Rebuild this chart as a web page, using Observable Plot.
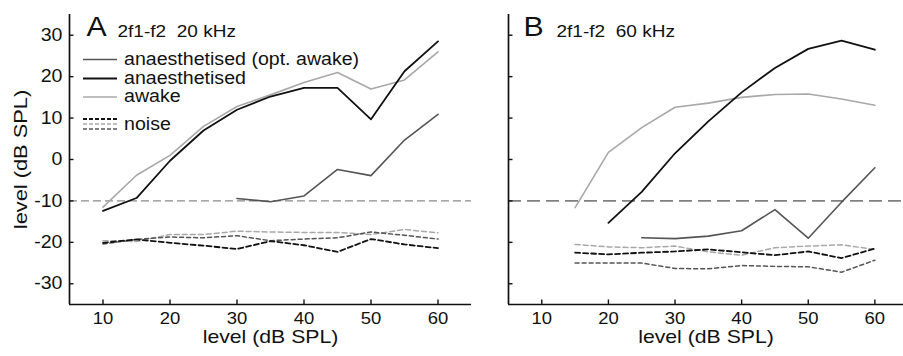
<!DOCTYPE html>
<html><head><meta charset="utf-8">
<script src="https://cdn.jsdelivr.net/npm/d3@7"></script>
<script src="https://cdn.jsdelivr.net/npm/@observablehq/plot@0.6"></script>
<style>
body{margin:0;background:#fff;}
#wrap{position:relative;width:903px;height:356px;overflow:hidden;background:#fff;}
#wrap svg{position:absolute;top:0;}
</style></head><body><div id="wrap"></div>
<script>
// ---------- data ----------
const levels = [10, 15, 20, 25, 30, 35, 40, 45, 50, 55, 60];
const xTicks = [10, 20, 30, 40, 50, 60];
const yTicks = [-30, -20, -10, 0, 10, 20, 30];
const thresholdLevel = -10;
const seriesNames = ["anaesthetised (opt. awake)", "anaesthetised", "awake"];
const noiseLabel = "noise";
const panelLetters = ["A", "B"];
const panelTitles = ["2f1-f2\u00a0\u00a020 kHz", "2f1-f2\u00a0\u00a060 kHz"];
const axisLabel = "level (dB SPL)";

// Panel A: 20 kHz
const optAwakeA = [null, null, null, null, -9.4, -10.2, -8.8, -2.4, -3.9, 4.7, 10.9];
const anaesA    = [-12.4, -9.3, -0.3, 7.0, 12.0, 15.2, 17.3, 17.3, 9.7, 21.3, 28.5];
const awakeA    = [-11.5, -3.8, 1.0, 8.0, 12.8, 15.6, 18.6, 21.0, 17.0, 19.2, 26.0];
const noiseOptA   = [-20.4, -19.3, -18.7, -18.9, -18.4, -19.6, -19.2, -18.9, -17.5, -18.3, -19.2];
const noiseAnaesA = [-20.1, -19.3, -20.1, -20.8, -21.6, -19.7, -20.7, -22.3, -19.2, -20.5, -21.4];
const noiseAwakeA = [-19.6, -19.8, -18.1, -18.1, -17.3, -17.5, -17.6, -17.6, -18.1, -16.9, -17.7];

// Panel B: 60 kHz
const optAwakeB = [null, null, null, -18.9, -19.1, -18.5, -17.2, -12.1, -19.0, -10.3, -2.0];
const anaesB    = [null, null, -15.3, -7.8, 1.5, 9.2, 16.2, 22.1, 26.7, 28.7, 26.5];
const awakeB    = [null, -11.6, 1.7, 7.7, 12.6, 13.6, 15.0, 15.7, 15.8, 14.6, 13.1];
const noiseOptB   = [null, -25.0, -25.0, -25.0, -26.3, -26.4, -25.6, -25.8, -25.9, -27.2, -24.3];
const noiseAnaesB = [null, -22.5, -22.9, -22.5, -22.2, -21.7, -22.4, -23.1, -22.2, -23.8, -21.5];
const noiseAwakeB = [null, -20.5, -21.1, -21.3, -20.9, -22.3, -23.1, -21.3, -20.9, -20.6, -21.7];

// ---------- styles ----------
const FONT = '"Liberation Sans", Arial, Helvetica, sans-serif';
const STRETCH = 1.12;
const LABEL_STRETCH = 1.18;
const C = {opt: "#555555", anaes: "#111111", awake: "#a8a8a8"};
const yDomain = [-35, 35];
const H = 356, MT = 14, MB = 52;
const pxPerY = (H - MT - MB) / (yDomain[1] - yDomain[0]);
const TICK = 4.5;

const rows = arr => levels.map((x, i) => ({x, y: arr[i]})).filter(d => d.y != null);

function stretchText(svg) {
  svg.querySelectorAll("text").forEach(t => {
    let tr = t.getAttribute("transform") || "";
    const x = t.getAttribute("x");
    if (x != null && !isNaN(+x)) { tr += ` translate(${+x},0)`; t.removeAttribute("x"); }
    const s = t.textContent === axisLabel ? LABEL_STRETCH : STRETCH;
    t.setAttribute("transform", `${tr} scale(${s},1)`);
  });
}

function makePanel(p) {
  const pxPerX = (p.width - p.marginLeft - p.marginRight) / (p.xDomain[1] - p.xDomain[0]);
  const marks = [
    Plot.ruleY([thresholdLevel], {stroke: p.threshColor, strokeWidth: p.threshW, strokeDasharray: p.threshDash}),
    Plot.line(rows(p.noiseAwake), {x: "x", y: "y", stroke: C.awake, strokeWidth: 1.5, strokeDasharray: "5,3"}),
    Plot.line(rows(p.noiseOpt), {x: "x", y: "y", stroke: C.opt, strokeWidth: 1.5, strokeDasharray: "4,3"}),
    Plot.line(rows(p.noiseAnaes), {x: "x", y: "y", stroke: C.anaes, strokeWidth: 1.8, strokeDasharray: "5,3"}),
    Plot.line(rows(p.awake), {x: "x", y: "y", stroke: C.awake, strokeWidth: 1.6}),
    Plot.line(rows(p.opt), {x: "x", y: "y", stroke: C.opt, strokeWidth: 1.6}),
    Plot.line(rows(p.anaes), {x: "x", y: "y", stroke: C.anaes, strokeWidth: 1.8}),
    // axis lines
    Plot.ruleX([p.xDomain[0]], {stroke: "#111", strokeWidth: 1.7}),
    Plot.ruleY([yDomain[0]], {stroke: "#111", strokeWidth: 1.7}),
    // inward ticks
    Plot.ruleX(xTicks, {x: d => d, y1: yDomain[0], y2: yDomain[0] + TICK / pxPerY, stroke: "#111", strokeWidth: 1.4}),
    Plot.ruleY(yTicks, {y: d => d, x1: p.xDomain[0], x2: p.xDomain[0] + TICK / pxPerX, stroke: "#111", strokeWidth: 1.4}),
    Plot.axisX({ticks: xTicks, tickSize: 0, tickPadding: 8, tickFormat: d => String(d), label: null, fontSize: 16.5}),
    Plot.text([axisLabel], {frameAnchor: "bottom", textAnchor: "middle", dy: 25.5, lineAnchor: "top", fontSize: 18, fill: "#111"}),
    Plot.text([p.letter], {frameAnchor: "top-left", textAnchor: "start", dx: p.letterDx, dy: 21, lineAnchor: "bottom", fontSize: 27, fill: "#111"}),
    Plot.text([p.title], {frameAnchor: "top-left", textAnchor: "start", dx: 48, dy: 22, lineAnchor: "bottom", fontSize: 17, fill: "#111"})
  ];
  if (p.showY) {
    marks.push(Plot.axisY({ticks: yTicks, tickSize: 0, tickPadding: 7, tickFormat: d => String(d), label: null, fontSize: 17.5}));
    marks.push(Plot.text([axisLabel], {frameAnchor: "left", textAnchor: "middle", dx: -48, rotate: -90, lineAnchor: "middle", fontSize: 18.5, fill: "#111"}));
  }
  const svg = Plot.plot({
    width: p.width, height: H,
    marginLeft: p.marginLeft, marginRight: p.marginRight, marginTop: MT, marginBottom: MB,
    x: {domain: p.xDomain},
    y: p.showY ? {domain: yDomain} : {domain: yDomain, axis: null},
    style: {fontFamily: FONT, fontSize: "17.5px", background: "transparent", color: "#111", overflow: "visible"},
    marks
  });
  stretchText(svg);
  svg.style.left = p.left + "px";
  return svg;
}

const wrap = document.getElementById("wrap");
wrap.appendChild(makePanel({
  left: 0, width: 490, marginLeft: 69, marginRight: 19, xDomain: [5, 65], showY: true,
  letter: panelLetters[0], letterDx: 17, title: panelTitles[0],
  threshColor: "#8a8a8a", threshW: 1.3, threshDash: "8,4",
  opt: optAwakeA, anaes: anaesA, awake: awakeA,
  noiseOpt: noiseOptA, noiseAnaes: noiseAnaesA, noiseAwake: noiseAwakeA
}));
wrap.appendChild(makePanel({
  left: 490, width: 413, marginLeft: 18, marginRight: 0, xDomain: [5, 64.3], showY: false,
  letter: panelLetters[1], letterDx: 15, title: panelTitles[1],
  threshColor: "#808080", threshW: 1.8, threshDash: "13,6",
  opt: optAwakeB, anaes: anaesB, awake: awakeB,
  noiseOpt: noiseOptB, noiseAnaes: noiseAnaesB, noiseAwake: noiseAwakeB
}));

// ---------- legend (panel A) ----------
const NS = "http://www.w3.org/2000/svg";
const leg = document.createElementNS(NS, "svg");
leg.setAttribute("width", 400); leg.setAttribute("height", 150);
leg.style.left = "0px";
leg.style.fontFamily = FONT;
const legendItems = [
  {label: seriesNames[0], color: C.opt, w: 1.6, ly: 59.5, ty: 65.5},
  {label: seriesNames[1], color: C.anaes, w: 1.8, ly: 78.5, ty: 84},
  {label: seriesNames[2], color: C.awake, w: 1.6, ly: 97, ty: 102}
];
function add(tag, attrs, text) {
  const el = document.createElementNS(NS, tag);
  for (const k in attrs) el.setAttribute(k, attrs[k]);
  if (text != null) el.textContent = text;
  leg.appendChild(el); return el;
}
legendItems.forEach(d => {
  add("line", {x1: 83, x2: 117, y1: d.ly, y2: d.ly, stroke: d.color, "stroke-width": d.w});
  add("text", {x: 124, y: d.ty, "font-size": 17.5, fill: "#111"}, d.label);
});
[[119, C.anaes, 1.8], [124, C.awake, 1.5], [129, C.opt, 1.5]].forEach(([y, c, w]) =>
  add("line", {x1: 83, x2: 117, y1: y, y2: y, stroke: c, "stroke-width": w, "stroke-dasharray": "4,2"}));
add("text", {x: 124, y: 130, "font-size": 17.5, fill: "#111"}, noiseLabel);
stretchText(leg);
wrap.appendChild(leg);
</script></body></html>
